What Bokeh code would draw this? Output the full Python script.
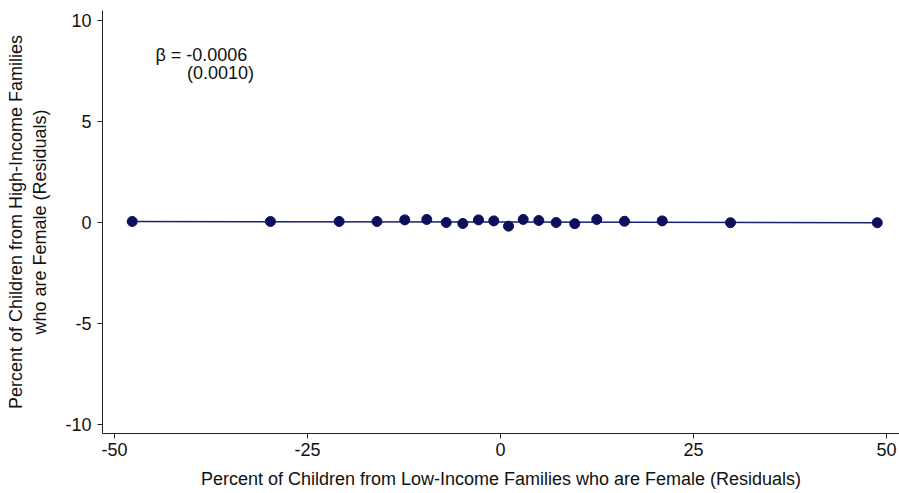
from bokeh.plotting import figure
from bokeh.models import Range1d, FixedTicker, Label
from bokeh.embed import file_html
from bokeh.resources import INLINE

# Binned residual data
x_vals = [-47.7, -29.8, -20.9, -16.0, -12.4, -9.55, -7.03, -4.88, -2.85, -0.87,
          1.04, 2.94, 4.96, 7.21, 9.62, 12.47, 16.06, 20.95, 29.79, 48.8]
y_vals = [0.05, 0.05, 0.05, 0.05, 0.13, 0.15, 0.0, -0.05, 0.13, 0.08,
          -0.18, 0.15, 0.10, 0.0, -0.06, 0.15, 0.06, 0.08, -0.01, -0.01]

beta = -0.0006
intercept = 0.02
beta_se = 0.0010

x_ticks = [-50, -25, 0, 25, 50]
y_ticks = [-10, -5, 0, 5, 10]

FONT = "Liberation Sans"
FS = "18px"

p = figure(width=899, height=493, output_backend="svg", toolbar_location=None,
           x_range=Range1d(-51.55, 51.68), y_range=Range1d(-10.45, 10.5),
           min_border_left=102, min_border_right=0, min_border_top=10,
           min_border_bottom=60)
p.outline_line_color = None
p.xgrid.visible = False
p.ygrid.visible = False
p.background_fill_color = "white"
p.border_fill_color = "white"

# fit line across data span
x_line = [min(x_vals), max(x_vals)]
y_line = [intercept + beta * xv for xv in x_line]
p.line(x_line, y_line, line_color="#1a1f6e", line_width=1.5)
p.scatter(x_vals, y_vals, size=10, fill_color="#0b0f5c", line_color="#0b0f5c")

for ax, ticks in ((p.xaxis[0], x_ticks), (p.yaxis[0], y_ticks)):
    ax.ticker = FixedTicker(ticks=ticks)
    ax.major_label_overrides = {t: str(t) for t in ticks}
    ax.minor_tick_line_color = None
    ax.major_tick_in = 0
    ax.major_tick_out = 5
    ax.axis_line_color = "#222222"
    ax.major_tick_line_color = "#222222"
    ax.major_label_text_font = FONT
    ax.major_label_text_font_size = FS
    ax.major_label_text_color = "#111111"
    ax.axis_label_text_font = FONT
    ax.axis_label_text_font_size = FS
    ax.axis_label_text_font_style = "normal"
    ax.axis_label_text_color = "#111111"

p.yaxis.major_label_orientation = "horizontal"
p.xaxis.axis_label = "Percent of Children from Low-Income Families who are Female (Residuals)"
p.yaxis.axis_label = "Percent of Children from High-Income Families\nwho are Female (Residuals)"
p.xaxis.axis_label_standoff = 10
p.yaxis.axis_label_standoff = 12
p.xaxis.major_label_standoff = 4
p.yaxis.major_label_standoff = 6

p.add_layout(Label(x=-44.7, y=8.32, text=f"β = {beta:.4f}", text_font=FONT,
                   text_font_size=FS, text_baseline="middle", text_color="#111111"))
p.add_layout(Label(x=-40.6, y=7.38, text=f"({beta_se:.4f})", text_font=FONT,
                   text_font_size=FS, text_baseline="middle", text_color="#111111"))

open("out.html", "w").write(file_html(p, INLINE))
